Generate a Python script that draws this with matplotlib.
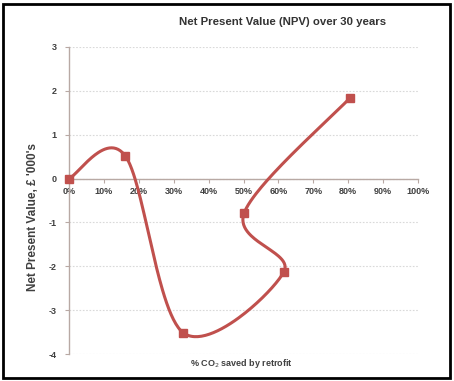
import numpy as np
import matplotlib
matplotlib.use("Agg")
import matplotlib.pyplot as plt
from matplotlib.patches import Rectangle

# Data
co2_saved = [0.0, 16.1, 32.8, 61.6, 50.2, 80.5]      # % CO2 saved
npv = [0.0, 0.52, -3.52, -2.12, -0.78, 1.84]           # £ '000's
x_ticks = list(range(0, 101, 10))
y_ticks = [-4, -3, -2, -1, 0, 1, 2, 3]

title = "Net Present Value (NPV) over 30 years"
xlabel = "% CO$_2$ saved by retrofit"
ylabel = "Net Present Value, £ '000's"

color = "#C0504D"
txt = "#404040"
plt.rcParams['font.family'] = ['Liberation Sans', 'DejaVu Sans']

fig = plt.figure(figsize=(4.54, 3.81), dpi=100)
fig.patch.set_facecolor("white")
W, H = 454, 381
ax = fig.add_axes([69 / W, 1 - 354 / H, 349 / W, 307 / H])
ax.set_xlim(0, 100)
ax.set_ylim(-4, 3)

for s in ["top", "right"]:
    ax.spines[s].set_visible(False)
ax.spines["left"].set_color("#B8A9A4")
ax.spines["left"].set_linewidth(1.0)
ax.spines["bottom"].set_position(("data", 0))
ax.spines["bottom"].set_color("#B8A9A4")
ax.spines["bottom"].set_linewidth(1.0)

ax.set_xticks(x_ticks)
ax.set_xticklabels([f"{v}%" for v in x_ticks])
ax.set_yticks(y_ticks)
ax.set_yticklabels([str(v) for v in y_ticks])
ax.tick_params(axis="x", direction="out", length=3, color="#B8A9A4", pad=3,
               labelsize=6.5, labelcolor=txt)
ax.tick_params(axis="y", direction="out", length=3, color="#B8A9A4", pad=6,
               labelsize=6.5, labelcolor=txt)
for lab in ax.get_xticklabels() + ax.get_yticklabels():
    lab.set_fontweight("bold")

ax.grid(axis="y", linestyle=(0, (1.5, 1.5)), color="#D9D9D9", linewidth=0.8)
ax.set_axisbelow(True)

# Excel-like smoothed line: Bezier through points, computed in display space
fig.canvas.draw()
pts = ax.transData.transform(np.column_stack([co2_saved, npv]))
n = len(pts)
curve = []
for i in range(n - 1):
    p0 = pts[i - 1] if i > 0 else pts[i]
    p1 = pts[i]
    p2 = pts[i + 1]
    p3 = pts[i + 2] if i + 2 < n else pts[i + 1]
    c1 = p1 + (p2 - p0) / 6.0
    c2 = p2 - (p3 - p1) / 6.0
    t = np.linspace(0, 1, 60)[:, None]
    seg = ((1 - t) ** 3) * p1 + 3 * ((1 - t) ** 2) * t * c1 + 3 * (1 - t) * t ** 2 * c2 + t ** 3 * p2
    curve.append(seg if i == 0 else seg[1:])
curve = np.vstack(curve)
cd = ax.transData.inverted().transform(curve)
ax.plot(cd[:, 0], cd[:, 1], color=color, linewidth=2.2, clip_on=False, zorder=3)
ax.plot(co2_saved, npv, linestyle="none", marker="s", markersize=5.8,
        color=color, clip_on=False, zorder=4)

fig.text(283 / W, 1 - 22 / H, title, ha="center", va="center",
         fontsize=8.2, fontweight="bold", color="#333333")
fig.text(241 / W, 1 - 363 / H, xlabel, ha="center", va="center",
         fontsize=6.5, fontweight="bold", color=txt)
fig.text(33 / W, 1 - 217 / H, ylabel, ha="center", va="center", rotation=90,
         fontsize=8.5, fontweight="bold", color=txt)

fig.add_artist(Rectangle((3 / W, 3 / H), 447 / W, 374 / H, transform=fig.transFigure,
                         fill=False, edgecolor="black", linewidth=2.0))

fig.savefig("out.png", dpi=100)
